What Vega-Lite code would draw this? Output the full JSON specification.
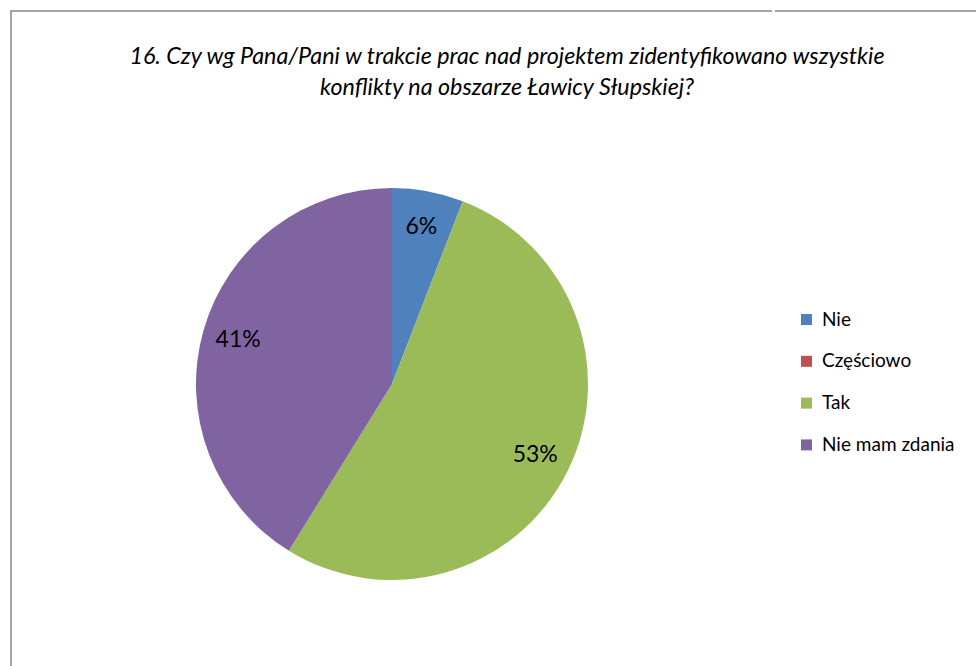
{
  "$schema": "https://vega.github.io/schema/vega-lite/v6.json",
  "autosize": {"type": "pad"},
  "padding": {"left": 10, "top": 10, "right": 0, "bottom": 0},
  "background": "white",
  "spacing": 0,
  "title": {
    "text": ["16. Czy wg Pana/Pani w trakcie prac nad projektem zidentyfikowano wszystkie", "konflikty na obszarze Ławicy Słupskiej?"],
    "font": "Lato",
    "fontStyle": "italic",
    "fontWeight": "normal",
    "fontSize": 23.3,
    "color": "#000000",
    "anchor": "middle",
    "dx": 12,
    "offset": -90,
    "lineHeight": 31
  },
  "hconcat": [
    {
      "width": 762,
      "height": 746,
      "view": {"stroke": "#878787", "strokeWidth": 1.5, "strokeDash": [761, 1509, 746]},
      "data": {
        "values": [
          {"nr": 1, "odpowiedz": "Nie", "udzial": 0.0588},
          {"nr": 2, "odpowiedz": "Częściowo", "udzial": 0},
          {"nr": 3, "odpowiedz": "Tak", "udzial": 0.5294},
          {"nr": 4, "odpowiedz": "Nie mam zdania", "udzial": 0.4118}
        ]
      },
      "encoding": {
        "theta": {"field": "udzial", "type": "quantitative", "stack": true},
        "color": {
          "field": "odpowiedz",
          "type": "nominal",
          "sort": ["Nie", "Częściowo", "Tak", "Nie mam zdania"],
          "scale": {
            "domain": ["Nie", "Częściowo", "Tak", "Nie mam zdania"],
            "range": ["#4F81BD", "#C0504D", "#9BBB59", "#8064A2"]
          },
          "legend": {
            "title": null,
            "orient": "none",
            "legendX": 786,
            "legendY": 299,
            "padding": 0,
            "symbolType": "square",
            "symbolSize": 121,
            "symbolStrokeWidth": 0,
            "symbolOpacity": 1,
            "labelFont": "Lato",
            "labelFontSize": 19,
            "labelColor": "#000000",
            "labelOffset": 6,
            "labelLimit": 300,
            "rowPadding": 21.8
          }
        },
        "order": {"field": "nr", "type": "quantitative", "sort": "ascending"}
      },
      "layer": [
        {"mark": {"type": "arc", "outerRadius": 196, "stroke": null}},
        {
          "transform": [{"filter": "datum.udzial > 0"}],
          "mark": {"type": "text", "radius": 160, "font": "Lato", "fontSize": 23, "color": "#000000"},
          "encoding": {
            "text": {"field": "udzial", "type": "quantitative", "format": ".0%"},
            "color": {"value": "#000000"}
          }
        }
      ]
    },
    {
      "width": 204,
      "height": 746,
      "view": {"stroke": "#878787", "strokeWidth": 1.5, "strokeDash": [205, 2000]},
      "data": {"values": [{"nr": 0}]},
      "mark": {"type": "point", "opacity": 0},
      "encoding": {}
    }
  ]
}
